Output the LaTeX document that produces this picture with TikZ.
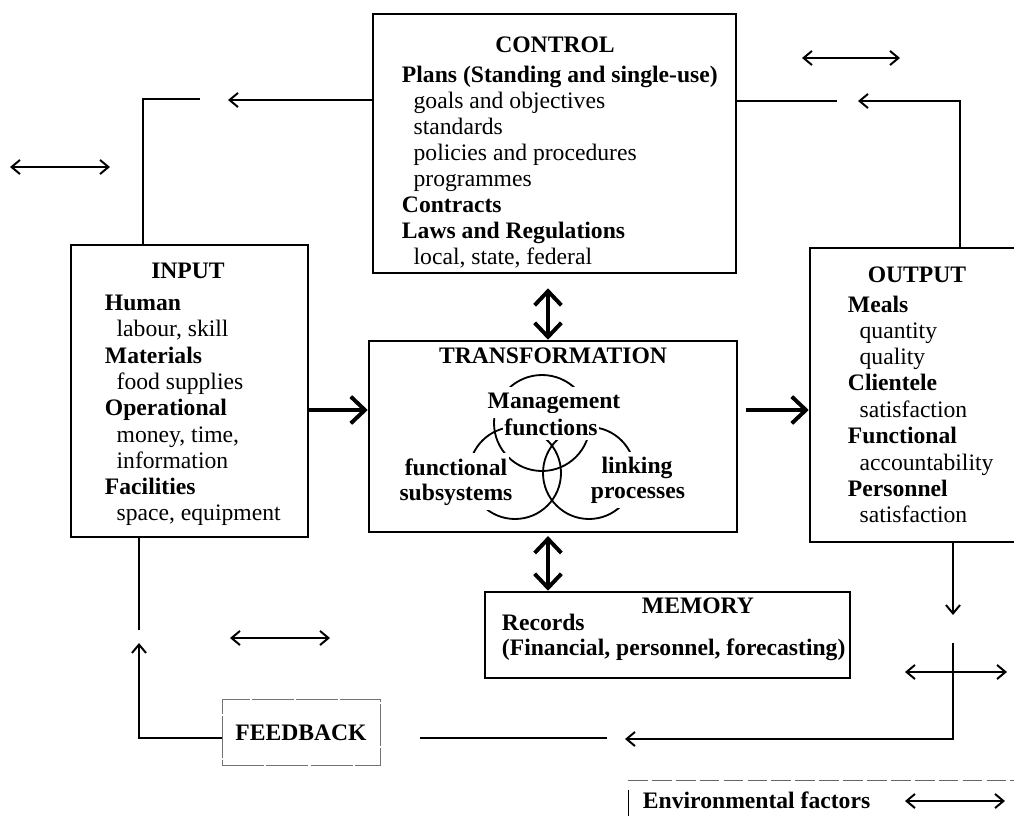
\documentclass[tikz,border=0pt]{standalone}
\usepackage{fontspec}
\setmainfont{Liberation Serif}
\usepackage{tikz}
\usetikzlibrary{arrows.meta}
\usetikzlibrary{fit}
\usetikzlibrary{positioning}
\newcommand{\diagfont}{\fontsize{16.8}{18.7}\selectfont}
\tikzstyle{box}=[draw,line width=1.8pt,inner sep=0pt]
\tikzstyle{fbbox}=[draw=black!55,line width=0.6pt,dash pattern=on 30pt off 1.5pt,inner sep=0pt]
\tikzset{hd/.style={anchor=base west,font=\diagfont\bfseries},
  tx/.style={anchor=base west,xshift=8.3pt,font=\diagfont},
  ttl/.style={anchor=base,font=\diagfont\bfseries},
  vn/.style={anchor=base,font=\diagfont\bfseries,fill=white,inner xsep=1pt,inner ysep=3.6pt},
  conn/.style={line width=1.4pt,>={Straight Barb[length=6pt,width=10pt]}},
  big/.style={line width=2.8pt,>={Straight Barb[length=10pt,width=19pt]}}}

\begin{document}
\begin{tikzpicture}[x=0.025cm,y=-0.025cm]
\useasboundingbox (0,0) rectangle (1014,816);
\clip (0,0) rectangle (1014,816);

% boxes
\node[box,fit={(373,14) (736,273)}] (control) {};
\node[box,fit={(71,245) (308,537)}] (input) {};
\node[box,fit={(369,341) (737,532)}] (trans) {};
\node[box,fit={(810,248) (1040,542)}] (output) {};
\node[box,fit={(485,592) (850,678)}] (memory) {};
\node[fbbox,fit={(222,699) (380,765)}] (feedback) {};

% control
\node[ttl] (ctlhead) at (555,52) {CONTROL};
\foreach \kind/\y/\txt [count=\i] in {hd/82/{Plans (Standing and single-use)}, tx/108/{goals and objectives},
    tx/134/standards, tx/160/{policies and procedures}, tx/186/programmes, hd/212/Contracts,
    hd/238/{Laws and Regulations}, tx/264/{local, state, federal}}
  \node[\kind] (ctl\i) at (397,\y) {\txt};

% input
\node[ttl] (inhead) at (188,278) {INPUT};
\foreach \kind/\y/\txt [count=\i] in {hd/310/Human, tx/336/{labour, skill}, hd/363/Materials,
    tx/389/{food supplies}, hd/415/Operational, tx/442/{money, time,}, tx/468/information,
    hd/494/Facilities, tx/520/{space, equipment}}
  \node[\kind] (in\i) at (100,\y) {\txt};

% output
\node[ttl] (outhead) at (917,282) {OUTPUT};
\foreach \kind/\y/\txt [count=\i] in {hd/312/Meals, tx/338/quantity, tx/364/quality, hd/390/Clientele,
    tx/417/satisfaction, hd/443/Functional, tx/470/accountability, hd/496/Personnel, tx/522/satisfaction}
  \node[\kind] (out\i) at (843,\y) {\txt};

% transformation
\node[ttl] (trhead) at (553,363) {TRANSFORMATION};
\draw[line width=1.3pt] (542,423) circle [radius=48];
\draw[line width=1.3pt] (515,473) circle [radius=46];
\draw[line width=1.3pt] (589,473) circle [radius=46];
\node[vn] (mgmt) at (554,408) {Management};
\node[vn] (mgmt2) at (551,435) {functions};
\node[vn] (fsub) at (456,475) {functional};
\node[vn] (fsub2) at (456,500) {subsystems};
\node[vn] (link) at (637,473) {linking};
\node[vn] (link2) at (638,498) {processes};

% memory
\node[ttl] (memhead) at (698,613) {MEMORY};
\node[hd] (mem1) at (497,630) {Records};
\node[hd] (mem2) at (497,655) {(Financial, personnel, forecasting)};

\node[ttl] (fbtext) at (301,740) {FEEDBACK};

% main flow
\coordinate (midrow) at (0,410);
\coordinate (colx) at (548,0);
\draw[big,->] (input.east |- midrow) -- (trans.west |- midrow);
\draw[big,->,shorten <=5.7pt] (trans.east |- midrow) -- (output.west |- midrow);
\draw[big,<->,shorten <=10pt] (control.south -| colx) -- (trans.north -| colx);
\draw[big,<->,shorten <=2pt] (trans.south -| colx) -- (memory.north -| colx);

% control loops
\coordinate (inTop) at (143,99);
\coordinate (inGap) at (200,99);
\coordinate (ctlTip) at (228,100);
\draw[conn] (inTop |- input.north) -- (inTop) -- (inGap);
\draw[conn,->] (control.west |- ctlTip) -- (ctlTip);

\coordinate (outTop) at (960,101);
\coordinate (ctlGap) at (837,101);
\coordinate (outTip) at (858,101);
\draw[conn] (control.east |- ctlGap) -- (ctlGap);
\draw[conn,->] (outTop |- output.north) -- (outTop) -- (outTip);

% feedback loop
\coordinate (outDown) at (953,615);
\coordinate (loopTop) at (953,643);
\coordinate (loopCorner) at (953,739);
\coordinate (fbTip) at (625,739);
\coordinate (fbGapR) at (607,738);
\coordinate (fbGapL) at (420,738);
\coordinate (fbCorner) at (139,738);
\coordinate (inTip) at (139,643);
\coordinate (inLow) at (139,630);
\draw[conn,->] (outDown |- output.south) -- (outDown);
\draw[conn,->] (loopTop) -- (loopCorner) -- (fbTip);
\draw[conn] (fbGapR) -- (fbGapL);
\draw[conn,->] (feedback.west |- fbCorner) -- (fbCorner) -- (inTip);
\draw[conn] (inLow) -- (inLow |- input.south);

% environment
\foreach \n/\xa/\xb/\y in {envTop/802/900/58, envLeft/10/110/167, envMid/230/330/638,
    envRight/905/1007/672, envKey/905/1005/801}{
  \coordinate (\n-a) at (\xa,\y);
  \coordinate (\n-b) at (\xb,\y);
  \draw[conn,<->] (\n-a) -- (\n-b);
}
\coordinate (keyL) at (628,780);
\coordinate (keyR) at (1014,780);
\draw[black!60,line width=0.7pt,dash pattern=on 14pt off 3pt] (keyL) -- (keyR);
\coordinate (keyTick) at (628,790);
\draw[line width=0.7pt] (keyTick) -- ++(0,30);
\node[hd] (envtext) at (638,808) {Environmental factors};

\end{tikzpicture}
\end{document}
